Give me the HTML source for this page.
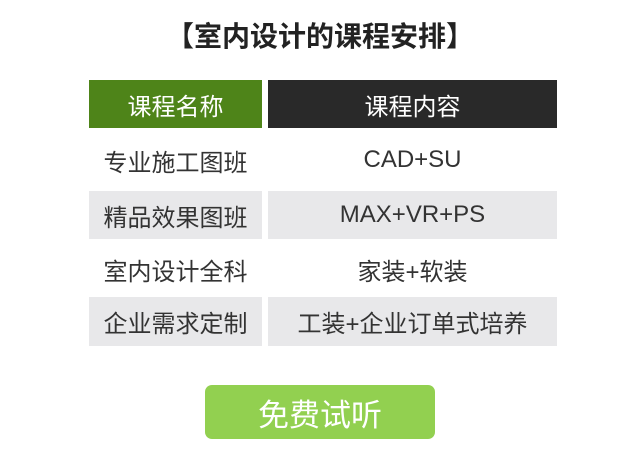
<!DOCTYPE html>
<html><head><meta charset="utf-8"><style>
body{margin:0;width:640px;height:464px;background:#fff;position:relative;overflow:hidden;font-family:"Liberation Sans","Noto Sans CJK SC",sans-serif;}
.a{position:absolute;display:flex;align-items:center;justify-content:center;white-space:nowrap;}
.t{left:0;width:640px;top:16px;height:38px;font-size:28px;font-weight:bold;color:#222;}
.c{font-size:24px;color:#333;}
.g{background:#e8e8ea;}
</style></head><body>
<div class="a t">【室内设计的课程安排】</div>
<div class="a c" style="left:89px;top:80px;width:173px;height:48px;background:#4e8419;color:#fff;">课程名称</div>
<div class="a c" style="left:268px;top:80px;width:289px;height:48px;background:#292929;color:#fff;">课程内容</div>
<div class="a c" style="left:89px;top:136px;width:173px;height:48px;">专业施工图班</div>
<div class="a c" style="left:268px;top:136px;width:289px;height:48px;">CAD+SU</div>
<div class="a c g" style="left:89px;top:191px;width:173px;height:48px;">精品效果图班</div>
<div class="a c g" style="left:268px;top:191px;width:289px;height:48px;">MAX+VR+PS</div>
<div class="a c" style="left:89px;top:245px;width:173px;height:48px;">室内设计全科</div>
<div class="a c" style="left:268px;top:245px;width:289px;height:48px;">家装+软装</div>
<div class="a c g" style="left:89px;top:297px;width:173px;height:49px;">企业需求定制</div>
<div class="a c g" style="left:268px;top:297px;width:289px;height:49px;">工装+企业订单式培养</div>
<div class="a" style="left:205px;top:385px;width:230px;height:54px;background:#92d050;border-radius:7px;color:#fff;font-size:31px;">免费试听</div>
</body></html>
